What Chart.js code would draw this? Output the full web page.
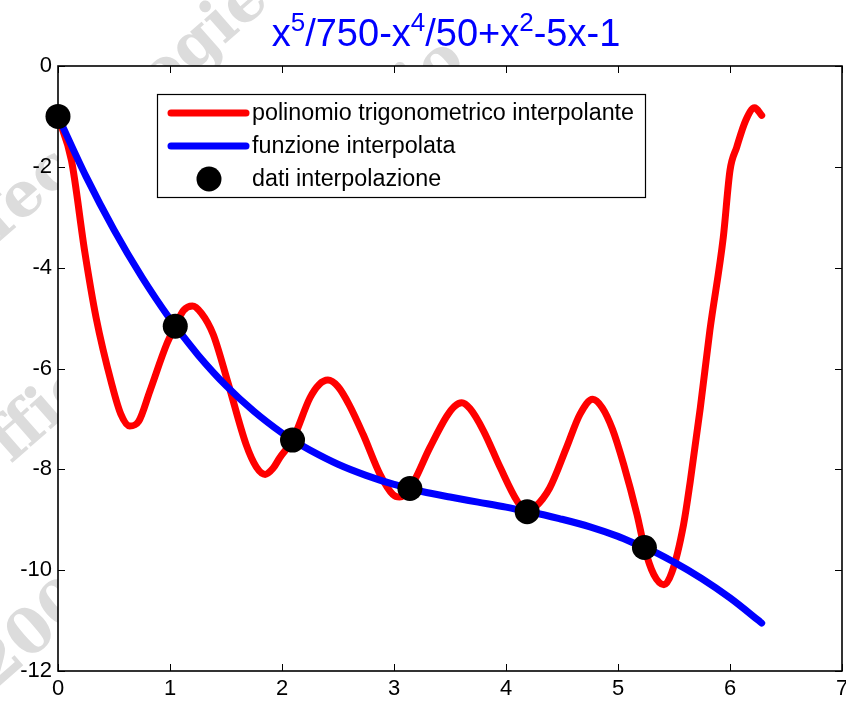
<!DOCTYPE html>
<html>
<head>
<meta charset="utf-8">
<script src="https://cdn.jsdelivr.net/npm/chart.js@4/dist/chart.umd.min.js"></script>
<style>
  html, body { margin: 0; padding: 0; background: #fff; }
  canvas { display: block; }
</style>
</head>
<body>
<canvas id="interpChart" width="846" height="702"></canvas>
<script>
// funzione interpolata
const funcX = [0, 0.25, 0.5, 0.75, 1, 1.047, 1.25, 1.5, 1.75, 2, 2.094, 2.25, 2.5, 2.75, 3, 3.142, 3.25, 3.5, 3.75,
    4, 4.189, 4.25, 4.5, 4.75, 5, 5.236, 5.25, 5.5, 5.75, 6, 6.25, 6.283];
const funcY = [-1, -2.19, -3.25, -4.19, -5.02, -5.16, -5.73, -6.34, -6.85, -7.28, -7.42, -7.62, -7.90, -8.12, -8.30, -8.38, -8.44, -8.55, -8.65,
    -8.75, -8.84, -8.86, -8.99, -9.14, -9.33, -9.55, -9.56, -9.84, -10.17, -10.55, -10.99, -11.05];

// polinomio trigonometrico interpolante
const trigX = [0, 0.12, 0.24, 0.34, 0.48, 0.56, 0.64, 0.72, 0.82, 0.97, 1.047, 1.12, 1.2, 1.28, 1.385, 1.52, 1.68, 1.77, 1.85,
    1.92, 1.98, 2.094, 2.25, 2.33, 2.41, 2.5, 2.6, 2.725, 2.875, 2.99, 3.05, 3.142, 3.32, 3.47, 3.54, 3.605, 3.68, 3.8,
    3.95, 4.1, 4.189, 4.26, 4.39, 4.54, 4.66, 4.775, 4.86, 4.95, 5.05, 5.17, 5.236, 5.32, 5.41, 5.48, 5.585, 5.645, 5.735,
    5.82, 5.94, 6.0, 6.06, 6.14, 6.22, 6.283];
const trigY = [-1, -1.87, -3.7, -4.99, -6.31, -6.9, -7.14, -7.05, -6.45, -5.52, -5.16, -4.85, -4.76, -4.9, -5.32, -6.3, -7.51, -7.95, -8.1,
    -7.98, -7.77, -7.42, -6.58, -6.32, -6.23, -6.36, -6.72, -7.31, -8.1, -8.5, -8.55, -8.38, -7.57, -6.95, -6.75, -6.68, -6.8, -7.24,
    -7.97, -8.63, -8.84, -8.75, -8.37, -7.57, -6.91, -6.61, -6.78, -7.2, -7.9, -8.9, -9.55, -10.09, -10.29, -10.05, -9.1, -8.24, -6.78,
    -5.25, -3.4, -2.07, -1.61, -1.08, -0.83, -0.98];

// dati interpolazione
const nodeX = [0, 1.047, 2.094, 3.142, 4.189, 5.236];
const nodeY = [-1, -5.16, -7.42, -8.38, -8.84, -9.55];

const xTicks = [0, 1, 2, 3, 4, 5, 6, 7];
const yTicks = [0, -2, -4, -6, -8, -10, -12];

const seriesNames = ['polinomio trigonometrico interpolante', 'funzione interpolata', 'dati interpolazione'];
// title pieces: [text, superscript?]
const titleParts = [['x', false], ['5', true], ['/750-x', false], ['4', true], ['/50+x', false], ['2', true], ['-5x-1', false]];
const watermarkLines = ["Tecnologie dell'Informazione", 'Ufficio Laboratorio', '2008 .'];

const FONT = '"Liberation Sans", Arial, sans-serif';

function toPoints(xs, ys) {
    return xs.map((x, i) => ({ x: x, y: ys[i] }));
}

// watermark behind everything, then white plot box
const backdrop = {
    id: 'backdrop',
    beforeDraw(chart) {
        const ctx = chart.ctx;
        const a = chart.chartArea;
        ctx.save();
        ctx.fillStyle = '#fff';
        ctx.fillRect(0, 0, chart.width, chart.height);
        ctx.fillStyle = '#dcdcdc';
        ctx.font = 'bold 62px "DejaVu Serif", "Liberation Serif", serif';
        const starts = [[-10, 250], [-30, 500], [-5, 690]];
        watermarkLines.forEach((txt, i) => {
            ctx.save();
            ctx.translate(starts[i][0], starts[i][1]);
            ctx.rotate(-0.72);
            ctx.fillText(txt, 0, 0);
            ctx.restore();
        });
        ctx.fillStyle = '#fff';
        ctx.fillRect(a.left, a.top, a.right - a.left, a.bottom - a.top);
        ctx.restore();
    }
};

// axes box with inward ticks on all four sides
const axesBox = {
    id: 'axesBox',
    beforeDatasetsDraw(chart) {
        const ctx = chart.ctx;
        const a = chart.chartArea;
        const xs = chart.scales.x, ys = chart.scales.y;
        ctx.save();
        ctx.strokeStyle = '#000';
        ctx.lineWidth = 1;
        ctx.beginPath();
        xTicks.forEach(v => {
            const px = Math.round(xs.getPixelForValue(v)) + 0.5;
            ctx.moveTo(px, a.bottom); ctx.lineTo(px, a.bottom - 7);
            ctx.moveTo(px, a.top); ctx.lineTo(px, a.top + 7);
        });
        yTicks.forEach(v => {
            const py = Math.round(ys.getPixelForValue(v)) + 0.5;
            ctx.moveTo(a.left, py); ctx.lineTo(a.left + 7, py);
            ctx.moveTo(a.right, py); ctx.lineTo(a.right - 7, py);
        });
        ctx.stroke();
        ctx.lineWidth = 1.6;
        ctx.strokeRect(a.left, a.top, a.right - a.left, a.bottom - a.top);
        ctx.restore();
    }
};

// legend box drawn over the curves
const legendBox = {
    id: 'legendBox',
    afterDatasetsDraw(chart) {
        const ctx = chart.ctx;
        ctx.save();
        ctx.fillStyle = '#fff';
        ctx.fillRect(157, 94, 488, 103);
        ctx.strokeStyle = '#000';
        ctx.lineWidth = 1.2;
        ctx.strokeRect(157.5, 94.5, 488, 103);
        const rows = [113, 146, 179];
        ctx.lineCap = 'round';
        ctx.lineWidth = 7;
        ctx.strokeStyle = '#ff0000';
        ctx.beginPath(); ctx.moveTo(171, rows[0]); ctx.lineTo(246, rows[0]); ctx.stroke();
        ctx.strokeStyle = '#0000ff';
        ctx.beginPath(); ctx.moveTo(171, rows[1]); ctx.lineTo(246, rows[1]); ctx.stroke();
        ctx.fillStyle = '#000';
        ctx.beginPath(); ctx.arc(209, rows[2], 12.5, 0, Math.PI * 2); ctx.fill();
        ctx.font = '23.3px ' + FONT;
        ctx.textBaseline = 'middle';
        seriesNames.forEach((name, i) => ctx.fillText(name, 252, rows[i] + 1));
        ctx.restore();
    }
};

// blue title with superscript exponents
const titleDraw = {
    id: 'titleDraw',
    afterDraw(chart) {
        const ctx = chart.ctx;
        const big = '38px ' + FONT, small = '26px ' + FONT;
        ctx.save();
        ctx.fillStyle = '#0000ff';
        ctx.textBaseline = 'alphabetic';
        let total = 0;
        titleParts.forEach(([t, sup]) => { ctx.font = sup ? small : big; total += ctx.measureText(t).width; });
        let x = 446 - total / 2;
        const base = 46;
        titleParts.forEach(([t, sup]) => {
            ctx.font = sup ? small : big;
            ctx.fillText(t, x, sup ? base - 15 : base);
            x += ctx.measureText(t).width;
        });
        ctx.restore();
    }
};

// fixed axis sizes, no extra room reserved for the end tick labels
function fitX(scale) {
    scale.height = 31;
    scale.paddingLeft = 0;
    scale.paddingRight = 0;
}
function fitY(scale) {
    scale.width = 58;
    scale.paddingTop = 0;
    scale.paddingBottom = 0;
}

const ctx = document.getElementById('interpChart').getContext('2d');
new Chart(ctx, {
    type: 'line',
    data: {
        datasets: [
            {
                label: seriesNames[2],
                data: toPoints(nodeX, nodeY),
                showLine: false,
                pointRadius: 12.5,
                pointBackgroundColor: '#000',
                pointBorderWidth: 0,
                clip: false,
                order: 0
            },
            {
                label: seriesNames[1],
                data: toPoints(funcX, funcY),
                borderColor: '#0000ff',
                borderWidth: 7,
                pointRadius: 0,
                cubicInterpolationMode: 'monotone',
                borderCapStyle: 'round',
                borderJoinStyle: 'round',
                clip: false,
                order: 1
            },
            {
                label: seriesNames[0],
                data: toPoints(trigX, trigY),
                borderColor: '#ff0000',
                borderWidth: 7,
                pointRadius: 0,
                cubicInterpolationMode: 'monotone',
                borderCapStyle: 'round',
                borderJoinStyle: 'round',
                clip: false,
                order: 2
            }
        ]
    },
    options: {
        responsive: false,
        animation: false,
        events: [],
        layout: { autoPadding: false, padding: { top: 66, right: 4, left: 0, bottom: 0 } },
        plugins: {
            legend: { display: false },
            title: { display: false },
            tooltip: { enabled: false }
        },
        scales: {
            x: {
                type: 'linear',
                min: 0,
                max: 7,
                afterFit: fitX,
                grid: { display: false, drawTicks: false },
                border: { display: false },
                ticks: {
                    stepSize: 1,
                    padding: 5,
                    color: '#000',
                    font: { family: FONT, size: 22 }
                }
            },
            y: {
                type: 'linear',
                min: -12,
                max: 0,
                afterFit: fitY,
                grid: { display: false, drawTicks: false },
                border: { display: false },
                ticks: {
                    stepSize: 2,
                    padding: 6,
                    color: '#000',
                    font: { family: FONT, size: 22 }
                }
            }
        }
    },
    plugins: [backdrop, axesBox, legendBox, titleDraw]
});
</script>
</body>
</html>
